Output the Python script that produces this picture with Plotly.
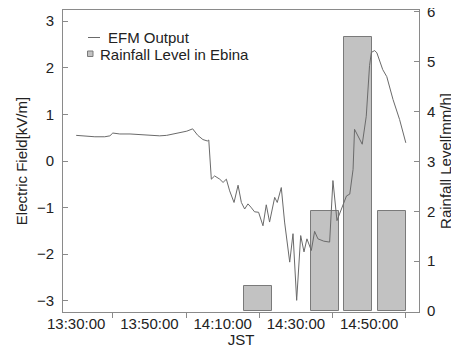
import plotly.graph_objects as go

# ---------------- data ----------------
efm_time = [
    "13:30:00", "13:32:24", "13:35:06", "13:37:48", "13:39:12", "13:40:00",
    "13:41:54", "13:44:42", "13:47:24", "13:50:06", "13:52:48", "13:54:42",
    "13:56:54", "14:00:12", "14:01:48", "14:03:12", "14:04:36", "14:05:48",
    "14:06:12", "14:06:54", "14:07:48", "14:09:12", "14:10:06", "14:11:00",
    "14:11:54", "14:13:06", "14:14:12", "14:15:06", "14:16:00", "14:16:54",
    "14:17:42", "14:18:42", "14:19:48", "14:21:00", "14:21:54", "14:22:48",
    "14:24:12", "14:24:54", "14:26:00", "14:26:54", "14:28:18", "14:29:12",
    "14:30:12", "14:31:18", "14:32:12", "14:33:00", "14:34:12", "14:35:06",
    "14:36:00", "14:37:36", "14:39:12", "14:40:06", "14:41:12", "14:42:24",
    "14:43:48", "14:44:42", "14:45:36", "14:46:00", "14:46:54", "14:48:06",
    "14:49:12", "14:49:36", "14:50:06", "14:50:36", "14:51:30", "14:52:06",
    "14:53:42", "14:54:48", "14:56:30", "14:58:18", "15:00:00",
]
efm_value = [
    0.55, 0.53, 0.52, 0.52, 0.54, 0.60,
    0.58, 0.58, 0.57, 0.56, 0.54, 0.55,
    0.59, 0.64, 0.69, 0.55, 0.46, 0.43,
    0.45, -0.39, -0.32, -0.39, -0.46, -0.39,
    -0.64, -0.89, -0.52, -0.89, -1.03, -0.92,
    -0.99, -1.09, -1.10, -1.39, -0.94, -1.31,
    -0.78, -0.89, -0.57, -1.31, -2.17, -1.56,
    -2.99, -1.60, -1.95, -1.67, -1.92, -1.51,
    -1.67, -1.72, -1.74, -0.42, -1.28, -1.03,
    -0.75, -0.71, -0.18, 0.68, 0.53, 0.36,
    0.96, 1.39, 2.05, 2.33, 2.37, 2.32,
    1.96, 1.81, 1.32, 0.89, 0.39,
]

rain_time = ["13:30", "13:40", "13:50", "14:00", "14:10",
             "14:20", "14:30", "14:40", "14:50", "15:00"]
rain_level = [0, 0, 0, 0, 0, 0.5, 0, 2, 5.5, 2]

x_label_times = ["13:30:00", "13:50:00", "14:10:00", "14:30:00", "14:50:00"]
x_tick_times = ["13:40:00", "14:00:00", "14:20:00", "14:40:00", "15:00:00"]
x_range_times = ["13:26:24", "15:03:36"]

legend_labels = ["EFM Output", "Rainfall Level in Ebina"]

DAY = "2000-01-01 "

FONT = "Arial, Liberation Sans, sans-serif"
TXT = "#222222"
AX = "#8a8a8a"
LINE = "#6a6a6a"
BAR = "#c2c2c2"
BAR_EDGE = "#7a7a7a"

# page body has an 8px default margin: figure starts at (8, 8) in the window
OFF = 8
W, H = 459 - OFF, 348 - OFF
# plot box in window pixels: left 63, right 419, top 10, bottom 312
ML, MR, MT, MB = 63 - OFF, W - (419 - OFF), 10 - OFF, H - (312 - OFF)
PW, PH = W - ML - MR, H - MT - MB


def px(xw):  # window pixel -> paper x
    return (xw - OFF - ML) / PW


def py(yw):  # window pixel -> paper y
    return (H - MB - (yw - OFF)) / PH


fig = go.Figure()

# zero-rain intervals drawn as no bar (as in the original)
rain_plot = [v if v > 0 else None for v in rain_level]

fig.add_trace(go.Bar(
    x=rain_time, y=rain_plot, name=legend_labels[1],
    xaxis="x", yaxis="y", width=1 / 1.2, showlegend=False,
    marker=dict(color=BAR, line=dict(color=BAR_EDGE, width=1)),
))
fig.add_trace(go.Scatter(
    x=[DAY + t for t in efm_time], y=efm_value, name=legend_labels[0],
    mode="lines", xaxis="x2", yaxis="y2", showlegend=False,
    line=dict(color=LINE, width=1),
))

# legend drawn R-style (short line / small square keys)
shapes = [
    dict(type="line", xref="paper", yref="paper",
         x0=px(88), x1=px(100), y0=py(37.5), y1=py(37.5),
         line=dict(color=LINE, width=1)),
    dict(type="rect", xref="paper", yref="paper",
         x0=px(87.5), x1=px(93), y0=py(51), y1=py(56.5),
         fillcolor=BAR, line=dict(color=BAR_EDGE, width=1)),
]
annotations = [
    dict(text=legend_labels[0], xref="paper", yref="paper",
         x=px(106), y=py(37.5), xanchor="left", yanchor="middle",
         showarrow=False, font=dict(size=15, color=TXT)),
    dict(text=legend_labels[1], xref="paper", yref="paper",
         x=px(98), y=py(54.5), xanchor="left", yanchor="middle",
         showarrow=False, font=dict(size=15, color=TXT)),
]

fig.update_layout(
    template="none",
    width=W, height=H,
    margin=dict(l=ML, r=MR, t=MT, b=MB, pad=0),
    paper_bgcolor="white", plot_bgcolor="white",
    font=dict(family=FONT, size=15, color=TXT),
    bargap=0,
    showlegend=False,
    shapes=shapes,
    annotations=annotations,
    xaxis=dict(type="category", range=[-0.81, 9.81], visible=False,
               domain=[0, 1], automargin=False),
    yaxis=dict(side="right", range=[-0.02, 6.04], dtick=1, tick0=0,
               ticks="inside", ticklen=5, tickcolor=AX, tickwidth=1,
               showline=True, linecolor=AX, linewidth=1,
               showgrid=False, zeroline=False, automargin=False,
               ticklabelstandoff=4, ticklabeloverflow="allow",
               title=dict(text="Rainfall Level[mm/h]", standoff=6,
                          font=dict(size=15))),
    xaxis2=dict(overlaying="x", anchor="y2", side="bottom", type="date",
                range=[DAY + x_range_times[0], DAY + x_range_times[1]],
                tickmode="array", tickvals=[DAY + t for t in x_label_times],
                tickformat="%H:%M:%S", ticks="", ticklen=0,
                ticklabelstandoff=-2, ticklabeloverflow="allow",
                minor=dict(tickmode="array",
                           tickvals=[DAY + t for t in x_tick_times],
                           ticks="outside", ticklen=5, tickcolor=AX,
                           showgrid=False),
                showline=True, mirror=True, linecolor=AX, linewidth=1,
                showgrid=False, zeroline=False, automargin=False,
                title=dict(text="JST", standoff=10, font=dict(size=15))),
    yaxis2=dict(overlaying="y", anchor="x2", side="left",
                range=[-3.24, 3.24], dtick=1, tick0=0,
                ticks="inside", ticklen=5, tickcolor=AX, tickwidth=1,
                showline=True, linecolor=AX, linewidth=1,
                showgrid=False, zeroline=False, automargin=False,
                ticklabelstandoff=5, ticklabeloverflow="allow",
                title=dict(text="Electric Field[kV/m]", standoff=5,
                           font=dict(size=15))),
)

fig.write_html("out.html")
